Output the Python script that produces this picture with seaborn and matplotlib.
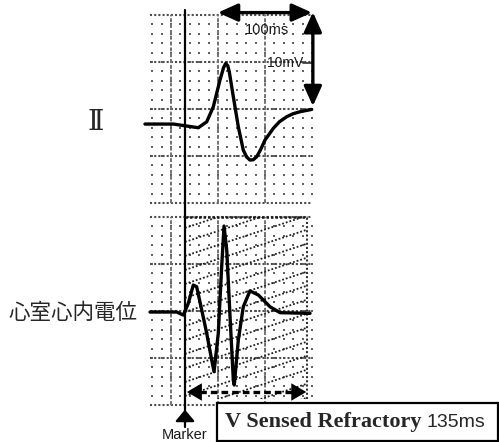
import numpy as np
import pandas as pd
import matplotlib
matplotlib.use("Agg")
import matplotlib.pyplot as plt
from matplotlib.patches import Rectangle
import seaborn as sns

# ----- data: time from marker (ms), amplitude (mV) ----- #
lead2_t = [-42.6, -12.4, 1.8, 14.1, 23.1, 30.1, 37.2, 41.0, 43.3, 45.5, 47.1, 51.4, 56.7,
           62.0, 65.5, 69.1, 72.5, 76.3, 80.5, 85.1, 93.9, 100.5, 108.2, 115.0, 122.3, 134.8]
lead2_mv = [0.0, 0.0, -0.21, -0.39, 0.24, 1.84, 4.68, 6.0, 6.45, 6.2, 5.56, 2.90, -0.29,
            -2.77, -3.5, -3.83, -3.8, -3.48, -2.7, -1.70, -0.46, 0.25, 0.78, 1.1, 1.31, 1.56]

vegm_t = [-37.2, -8.8, -1.8, 3.5, 8.8, 12.4, 17.8, 23.1, 28.4, 30.9, 35.4, 39.0, 41.5,
          44.4, 47.9, 51.4, 52.4, 56.7, 62.0, 69.1, 78.0, 90.4, 101.1, 133.0]
vegm_mv = [0.0, 0.0, -0.32, 0.92, 2.87, 2.69, 0.21, -2.27, -5.11, -6.35, -2.27, 4.82, 9.15,
           6.60, -0.50, -7.23, -7.77, -2.98, 0.56, 2.25, 1.81, 0.56, -0.07, -0.14]

lead_labels = ["Ⅱ", "心室心内電位"]
time_scale_ms = 100
amp_scale_mv = 10
refractory_ms = 135

# ----- layout ----- #
sns.set_theme(style="white")
plt.rcParams['font.family'] = ['Liberation Sans', 'Noto Sans CJK JP', 'DejaVu Sans']

fig = plt.figure(figsize=(4.99, 4.42), dpi=100)
ax = fig.add_axes([0, 0, 1, 1])

strip_bases = [21.5, 0.0]
grid_t0, grid_t1 = -37, 135

for base in strip_bases:
    tt, yy = np.meshgrid(np.arange(-35, 136, 10), base + np.arange(1, 20))
    ax.scatter(tt.ravel(), yy.ravel(), s=3.2, marker='s', color='0.38', linewidths=0, zorder=1)
    for k in range(5):
        ax.plot([grid_t0, grid_t1], [base + 5 * k] * 2, color='0.3', lw=1.5,
                ls=(0, (1, 1)), zorder=1)
    for tv in [-15, 35, 85]:
        ax.plot([tv, tv], [base, base + 20], color='0.45', lw=1.4, ls=(0, (2, 1)), zorder=1)

# refractory hatched box
box_bottom, box_top = 0.6, 20.0
box_right = refractory_ms - 5
clip = Rectangle((0, box_bottom), box_right, box_top - box_bottom, fill=False, lw=0,
                 transform=ax.transData)
ax.add_patch(clip)
for c in np.arange(-5, 21, 1.49):
    ln, = ax.plot([0, box_right], [c, c + 0.033 * box_right], color='0.12', lw=1.3,
                  ls=(0, (1, 1.1)), zorder=2)
    ln.set_clip_path(clip)
ax.plot([0, box_right], [box_top, box_top], color='0.1', lw=1.8, ls=(0, (1, 0.8)), zorder=2)
ax.plot([box_right, box_right], [box_bottom, box_top], color='0.2', lw=1.5,
        ls=(0, (1, 1)), zorder=2)

# traces
df = pd.concat([
    pd.DataFrame({'t': lead2_t, 'y': np.array(lead2_mv) + 29.89, 'lead': 'II'}),
    pd.DataFrame({'t': vegm_t, 'y': np.array(vegm_mv) + 9.89, 'lead': 'V'}),
])
for lead, d in df.groupby('lead'):
    sns.lineplot(data=d, x='t', y='y', sort=False, estimator=None, color='black',
                 lw=2.4, ax=ax, zorder=4)
for line in ax.lines[-2:]:
    line.set_solid_joinstyle('round')
ax.set_xlim(-196.8, 334.0)
ax.set_ylim(-3.94, 43.09)
ax.axis('off')

# marker line and arrow
ax.plot([0, 0], [-2.34, 42.0], color='black', lw=1.6, zorder=3)
ax.annotate("", xy=(0, -0.5), xytext=(0, -1.9),
            arrowprops=dict(arrowstyle='-|>,head_length=0.5,head_width=0.42',
                            mutation_scale=14, color='black', lw=1.6, shrinkA=0, shrinkB=0))
ax.text(0, -3.62, "Marker", ha='center', va='baseline', fontsize=10.5, color='0.1')

# scale arrows
big = dict(arrowstyle='<|-|>,head_length=0.6,head_width=0.27', mutation_scale=20,
           color='black', lw=2.4, shrinkA=0, shrinkB=0)
ax.annotate("", xy=(35, 41.75), xytext=(35 + time_scale_ms, 41.75), arrowprops=big)
ax.annotate("", xy=(136, 41.8), xytext=(136, 41.8 - amp_scale_mv), arrowprops=big)
ax.text(87.2, 39.9, f"{time_scale_ms}ms", ha='center', va='center', fontsize=10.5,
        color='0.1')
ax.text(106.4, 36.4, f"{amp_scale_mv}mV", ha='center', va='center', fontsize=10,
        color='0.1')
ax.plot([125.5, 136], [36.38, 36.38], color='0.2', lw=1.2)

# dashed refractory arrow
ax.plot([4, 125], [1.38, 1.38], color='black', lw=2.4, ls=(0, (2, 1.2)), zorder=5)
small = dict(arrowstyle='-|>,head_length=0.6,head_width=0.35', mutation_scale=18,
             color='black', lw=0, shrinkA=0, shrinkB=0)
ax.annotate("", xy=(2, 1.38), xytext=(20, 1.38), arrowprops=small)
ax.annotate("", xy=(129, 1.38), xytext=(111, 1.38), arrowprops=small)

# label box
ax.add_patch(Rectangle((34, -3.83), 299, 4.03, fill=True, facecolor='white',
                       edgecolor='black', lw=1.6, zorder=6))
ax.text(42.6, -2.34, "V Sensed Refractory", ha='left', va='baseline', fontsize=16,
        fontweight='bold', family='Liberation Serif', zorder=7)
ax.text(257.1, -2.34, f"{refractory_ms}ms", ha='left', va='baseline', fontsize=14, zorder=7)

# lead labels
ax.text(-94.7, 30.1, lead_labels[0], ha='center', va='center', fontsize=20,
        family=['DejaVu Serif', 'Noto Sans CJK JP'])
ax.text(-119.7, 9.79, lead_labels[1], ha='center', va='center', fontsize=15.5,
        family=['Noto Sans CJK JP'])

fig.savefig("out.png", dpi=100)
